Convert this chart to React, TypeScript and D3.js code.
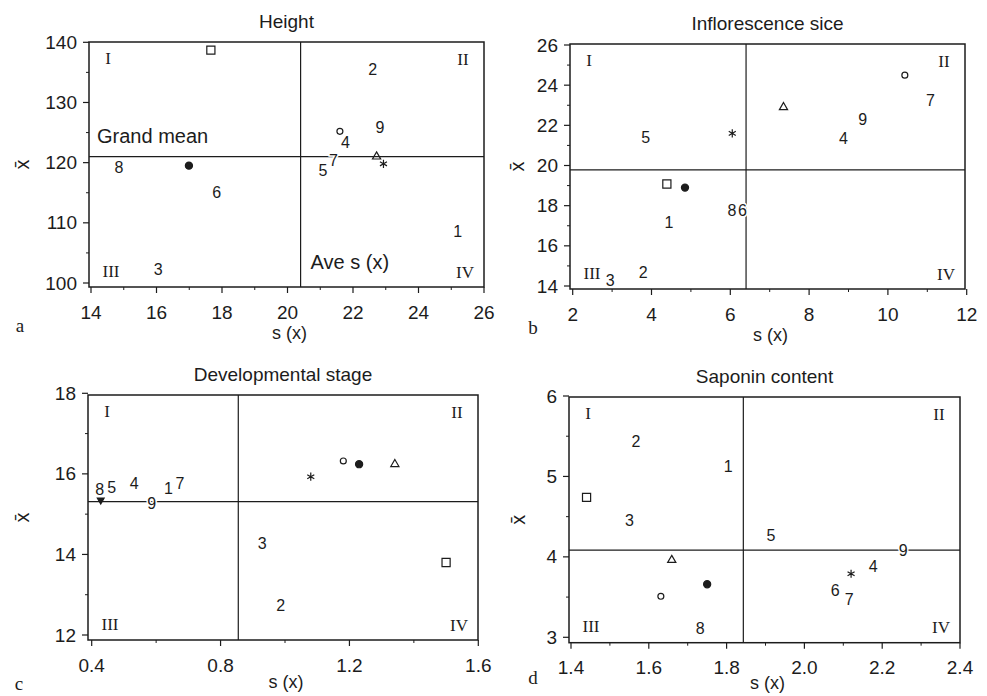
import React from 'react';
import * as d3 from 'd3';

const W = 987;
const H = 696;
const ink = '#1c1c1c';
const sans = '"Liberation Sans", Arial, Helvetica, sans-serif';
const serif = '"Liberation Serif", "Times New Roman", serif';

// marker order used by every panel
const markerKinds = ['square', 'dot', 'circle', 'triangle', 'asterisk'];
const labelIds = ['1', '2', '3', '4', '5', '6', '7', '8', '9'];
const quadrantNames = ['I', 'II', 'III', 'IV'];

// a: Height
const heightMarkerX = [17.66, 16.99, 21.6, 22.72, 22.93];
const heightMarkerY = [138.7, 119.5, 125.2, 121.0, 119.8];
const heightLabelX = [25.2, 22.6, 16.05, 21.77, 21.08, 17.84, 21.4, 14.85, 22.82];
const heightLabelY = [108.6, 135.4, 102.2, 123.3, 118.7, 115.1, 120.3, 119.2, 125.8];
const heightMean = [20.4, 121];
const heightXTicks = [14, 16, 18, 20, 22, 24, 26];
const heightYTicks = [100, 110, 120, 130, 140];

// b: Inflorescence sice
const inflMarkerX = [4.39, 4.85, 10.43, 7.35, 6.05];
const inflMarkerY = [19.08, 18.9, 24.5, 22.9, 21.6];
const inflLabelX = [4.44, 3.79, 2.95, 8.87, 3.85, 6.31, 11.08, 6.04, 9.36];
const inflLabelY = [17.15, 14.66, 14.25, 21.35, 21.4, 17.78, 23.26, 17.78, 22.3];
const inflMean = [6.4, 19.78];
const inflXTicks = [2, 4, 6, 8, 10, 12];
const inflYTicks = [14, 16, 18, 20, 22, 24, 26];

// c: Developmental stage (label 6 not shown, extra small filled mark)
const devMarkerKinds = ['square', 'dot', 'circle', 'triangle', 'asterisk', 'small'];
const devMarkerX = [1.5, 1.23, 1.181, 1.341, 1.08, 0.428];
const devMarkerY = [13.8, 16.24, 16.32, 16.24, 15.93, 15.35];
const devLabelIds = ['1', '2', '3', '4', '5', '7', '8', '9'];
const devLabelX = [0.638, 0.987, 0.929, 0.532, 0.462, 0.674, 0.425, 0.586];
const devLabelY = [15.64, 12.72, 14.28, 15.77, 15.66, 15.75, 15.61, 15.27];
const devMean = [0.855, 15.31];
const devXTicks = [0.4, 0.8, 1.2, 1.6];
const devYTicks = [12, 14, 16, 18];

// d: Saponin content
const sapMarkerX = [1.44, 1.75, 1.631, 1.659, 2.12];
const sapMarkerY = [4.74, 3.66, 3.51, 3.96, 3.79];
const sapLabelX = [1.804, 1.567, 1.55, 2.177, 1.914, 2.079, 2.115, 1.732, 2.254];
const sapLabelY = [5.12, 5.44, 4.45, 3.88, 4.27, 3.58, 3.47, 3.11, 4.08];
const sapMean = [1.843, 4.085];
const sapXTicks = [1.4, 1.6, 1.8, 2.0, 2.2, 2.4];
const sapYTicks = [3, 4, 5, 6];

type Frame = { l: number; r: number; t: number; b: number };
type Panel = {
  title: string;
  letter: string;
  letterPos: [number, number];
  xDomain: [number, number];
  yDomain: [number, number];
  xRange: [number, number];
  yRange: [number, number];
  frame: Frame;
  xTicks: number[];
  yTicks: number[];
  xFmt: (v: number) => string;
  kinds: string[];
  mx: number[];
  my: number[];
  ids: string[];
  lx: number[];
  ly: number[];
  mean: number[];
  yLabelX: number;
  xTitleY: number;
  notes?: boolean;
};

const panels: Panel[] = [
  {
    title: 'Height', letter: 'a', letterPos: [20, 325],
    xDomain: [14, 26], yDomain: [100, 140],
    xRange: [91, 484], yRange: [283, 42.3],
    frame: { l: 89, r: 484, t: 42, b: 287 },
    xTicks: heightXTicks, yTicks: heightYTicks, xFmt: d3.format('d'),
    kinds: markerKinds, mx: heightMarkerX, my: heightMarkerY,
    ids: labelIds, lx: heightLabelX, ly: heightLabelY,
    mean: heightMean, yLabelX: 22, xTitleY: 333, notes: true,
  },
  {
    title: 'Inflorescence sice', letter: 'b', letterPos: [533, 327],
    xDomain: [2, 12], yDomain: [14, 26],
    xRange: [572.7, 966.7], yRange: [286, 45],
    frame: { l: 570, r: 965, t: 44, b: 289 },
    xTicks: inflXTicks, yTicks: inflYTicks, xFmt: d3.format('d'),
    kinds: markerKinds, mx: inflMarkerX, my: inflMarkerY,
    ids: labelIds, lx: inflLabelX, ly: inflLabelY,
    mean: inflMean, yLabelX: 517, xTitleY: 335,
  },
  {
    title: 'Developmental stage', letter: 'c', letterPos: [19, 683],
    xDomain: [0.4, 1.6], yDomain: [12, 18],
    xRange: [91.7, 478.3], yRange: [635, 393.3],
    frame: { l: 88, r: 478, t: 395, b: 640 },
    xTicks: devXTicks, yTicks: devYTicks, xFmt: d3.format('.1f'),
    kinds: devMarkerKinds, mx: devMarkerX, my: devMarkerY,
    ids: devLabelIds, lx: devLabelX, ly: devLabelY,
    mean: devMean, yLabelX: 22, xTitleY: 682,
  },
  {
    title: 'Saponin content', letter: 'd', letterPos: [533, 677],
    xDomain: [1.4, 2.4], yDomain: [3, 6],
    xRange: [571, 960], yRange: [637.3, 396],
    frame: { l: 569, r: 960, t: 397, b: 642.7 },
    xTicks: sapXTicks, yTicks: sapYTicks, xFmt: d3.format('.1f'),
    kinds: markerKinds, mx: sapMarkerX, my: sapMarkerY,
    ids: labelIds, lx: sapLabelX, ly: sapLabelY,
    mean: sapMean, yLabelX: 518, xTitleY: 683,
  },
];

function Marker({ kind, cx, cy }: { kind: string; cx: number; cy: number }) {
  const sym = d3.symbol();
  let d = '';
  let filled = false;
  let rot = 0;
  if (kind === 'square') d = sym.type(d3.symbolSquare2).size(84)() as string;
  else if (kind === 'dot') { d = sym.type(d3.symbolCircle).size(40)() as string; filled = true; }
  else if (kind === 'circle') d = sym.type(d3.symbolCircle).size(28)() as string;
  else if (kind === 'triangle') d = sym.type(d3.symbolTriangle2).size(48)() as string;
  else if (kind === 'asterisk') d = sym.type(d3.symbolAsterisk).size(46)() as string;
  else { d = sym.type(d3.symbolTriangle).size(20)() as string; filled = true; rot = 180; }
  return (
    <path
      d={d}
      transform={`translate(${cx},${cy}) rotate(${rot})`}
      fill={filled ? ink : 'none'}
      stroke={ink}
      strokeWidth={1.2}
    />
  );
}

function Quad({ p }: { p: Panel }) {
  const x = d3.scaleLinear().domain(p.xDomain).range(p.xRange);
  const y = d3.scaleLinear().domain(p.yDomain).range(p.yRange);
  const f = p.frame;
  const xMinor = d3.pairs(p.xTicks).map(([a, b]) => (a + b) / 2);
  const yMinor = d3.pairs(p.yTicks).map(([a, b]) => (a + b) / 2);
  const cx = (f.l + f.r) / 2;
  const cy = (f.t + f.b) / 2;
  const mx = x(p.mean[0]);
  const my = y(p.mean[1]);
  const quadPos: [number, number][] = [
    [f.l + 19, f.t + 16],
    [f.r - 21, f.t + 17],
    [f.l + 22, f.b - 16],
    [f.r - 19, f.b - 15],
  ];

  return (
    <g>
      <text x={cx} y={f.t - 21} textAnchor="middle" dominantBaseline="central"
        fontFamily={sans} fontSize={19} fill={ink}>{p.title}</text>

      <rect x={f.l} y={f.t} width={f.r - f.l} height={f.b - f.t}
        fill="none" stroke={ink} strokeWidth={1.5} />

      <line x1={f.l} x2={f.r} y1={my} y2={my} stroke={ink} strokeWidth={1.2} />
      <line x1={mx} x2={mx} y1={f.t} y2={f.b} stroke={ink} strokeWidth={1.2} />

      {p.yTicks.map((v) => (
        <g key={`yt-${v}`}>
          <line x1={f.l - 6} x2={f.l} y1={y(v)} y2={y(v)} stroke={ink} strokeWidth={1.2} />
          <text x={f.l - 12} y={y(v)} textAnchor="end" dominantBaseline="central"
            fontFamily={sans} fontSize={19} fill={ink}>{v}</text>
        </g>
      ))}
      {yMinor.map((v) => (
        <line key={`ym-${v}`} x1={f.l - 3} x2={f.l} y1={y(v)} y2={y(v)} stroke={ink} strokeWidth={1} />
      ))}

      {p.xTicks.map((v) => (
        <g key={`xt-${v}`}>
          <line x1={x(v)} x2={x(v)} y1={f.b} y2={f.b + 6} stroke={ink} strokeWidth={1.2} />
          <text x={x(v)} y={f.b + 25} textAnchor="middle" dominantBaseline="central"
            fontFamily={sans} fontSize={19} fill={ink}>{p.xFmt(v)}</text>
        </g>
      ))}
      {xMinor.map((v) => (
        <line key={`xm-${v}`} x1={x(v)} x2={x(v)} y1={f.b} y2={f.b + 3} stroke={ink} strokeWidth={1} />
      ))}

      {p.kinds.map((k, i) => (
        <Marker key={`m-${i}`} kind={k} cx={x(p.mx[i])} cy={y(p.my[i])} />
      ))}

      {p.ids.map((id, i) => (
        <text key={`l-${id}`} x={x(p.lx[i])} y={y(p.ly[i])} textAnchor="middle"
          dominantBaseline="central" fontFamily={sans} fontSize={16} fill={ink}
          stroke="#fff" strokeWidth={3} paintOrder="stroke">{id}</text>
      ))}

      {quadrantNames.map((q, i) => (
        <text key={`q-${q}`} x={quadPos[i][0]} y={quadPos[i][1]} textAnchor="middle"
          dominantBaseline="central" fontFamily={serif} fontSize={17} fill={ink}>{q}</text>
      ))}

      {p.notes && (
        <g fontFamily={sans} fontSize={20} fill={ink}>
          <text x={f.l + 8} y={my - 21} dominantBaseline="central">Grand mean</text>
          <text x={mx + 10} y={f.b - 25} dominantBaseline="central">Ave s (x)</text>
        </g>
      )}

      <text transform={`translate(${p.yLabelX},${cy}) rotate(-90)`} textAnchor="middle"
        dominantBaseline="central" fontFamily={sans} fontSize={20} fill={ink}>{'x\u0304'}</text>
      <text x={cx + 3} y={p.xTitleY} textAnchor="middle" dominantBaseline="central"
        fontFamily={sans} fontSize={18} fill={ink}>s (x)</text>
      <text x={p.letterPos[0]} y={p.letterPos[1]} textAnchor="middle" dominantBaseline="central"
        fontFamily={serif} fontSize={19} fill={ink}>{p.letter}</text>
    </g>
  );
}

export default function App() {
  return (
    <svg width={W} height={H} viewBox={`0 0 ${W} ${H}`}
      style={{ position: 'absolute', left: 0, top: 0, background: '#fff' }}>
      {panels.map((p) => (
        <Quad key={p.letter} p={p} />
      ))}
    </svg>
  );
}
